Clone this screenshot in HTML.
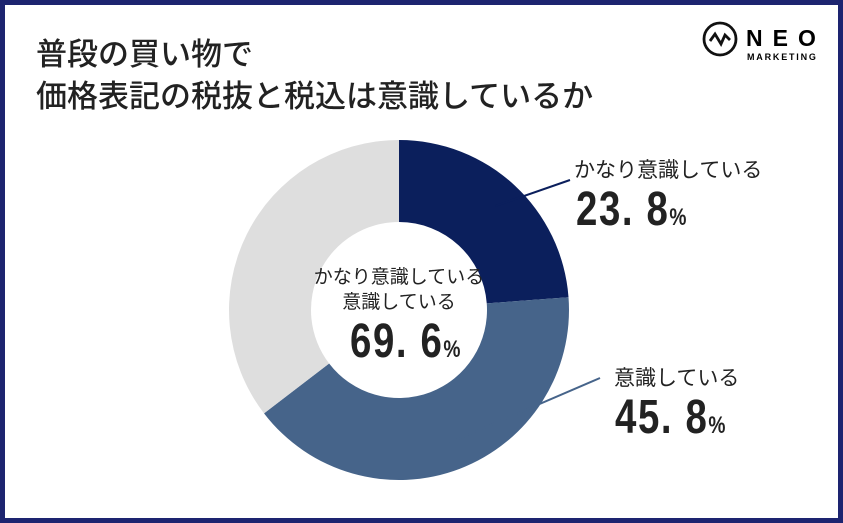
<!DOCTYPE html>
<html><head><meta charset="utf-8"><style>
body{margin:0;width:843px;height:523px;overflow:hidden;background:#fff;font-family:"Liberation Sans","Noto Sans CJK JP",sans-serif}
#frame{position:absolute;left:0;top:0;width:833px;height:513px;border:5px solid #1d2470;background:#fff}
.t{position:absolute;color:#222;white-space:nowrap}
.num{font-weight:bold;display:inline-block;transform:scaleX(0.8);transform-origin:left;letter-spacing:2px}
</style></head><body>
<div id="frame"></div>
<div class="t" style="left:36px;top:34px;font-size:31px;line-height:42px;font-weight:500">普段の買い物で<br>価格表記の税抜と税込は意識しているか</div>
<div style="position:absolute;left:701px;top:18px">
<svg width="130" height="46"><circle cx="19" cy="21" r="16" fill="none" stroke="#111" stroke-width="2.8"/><polyline points="9,23 14,16 20,26 24,17 29,22" fill="none" stroke="#111" stroke-width="2.8"/>
<text x="45" y="28" font-size="23" font-weight="bold" letter-spacing="10" font-family="Liberation Sans">NEO</text>
<text x="46" y="42" font-size="9" font-weight="bold" letter-spacing="1.8" font-family="Liberation Sans">MARKETING</text></svg></div>
<svg id="chart" width="843" height="523" style="position:absolute;left:0;top:0"></svg>
<div class="t" style="left:574px;top:154px;font-size:21px">かなり意識している</div>
<div class="t" style="left:576px;top:182px"><span class="num" style="font-size:48px">23. 8<span style="font-size:24px">%</span></span></div>
<div class="t" style="left:614px;top:362px;font-size:21px">意識している</div>
<div class="t" style="left:615px;top:390px"><span class="num" style="font-size:48px">45. 8<span style="font-size:24px">%</span></span></div>
<div class="t" style="left:309px;top:265px;width:180px;text-align:center;font-size:19px;line-height:25px">かなり意識している<br>意識している</div>
<div class="t" style="left:350px;top:314px"><span class="num" style="font-size:48px">69. 6<span style="font-size:24px">%</span></span></div>
<script>
const categories=["かなり意識している","意識している","その他"];
const values=[23.8,40.8,35.4];
const colors=["#0b1f5c","#46648a","#dedede"];
const svg=document.getElementById('chart');
const cx=399,cy=310,R=170,r=88;
const total=values.reduce((a,b)=>a+b,0);
function pt(a,rad){return [cx+rad*Math.sin(a),cy-rad*Math.cos(a)];}
let a0=0;
values.forEach((v,i)=>{
 const a1=a0+v/total*2*Math.PI;
 const large=(a1-a0)>Math.PI?1:0;
 const [x0,y0]=pt(a0,R),[x1,y1]=pt(a1,R),[x2,y2]=pt(a1,r),[x3,y3]=pt(a0,r);
 const p=document.createElementNS('http://www.w3.org/2000/svg','path');
 p.setAttribute('d',`M${x0},${y0}A${R},${R} 0 ${large} 1 ${x1},${y1}L${x2},${y2}A${r},${r} 0 ${large} 0 ${x3},${y3}Z`);
 p.setAttribute('fill',colors[i]);
 
 
 svg.appendChild(p);
 if(i<2){
  const mid=(a0+a1)/2;
  const [lx,ly]=pt(mid,R-28);
  const ex=i==0?570:600,ey=i==0?180:378;
  const l=document.createElementNS('http://www.w3.org/2000/svg','line');
  l.setAttribute('x1',lx);l.setAttribute('y1',ly);l.setAttribute('x2',ex);l.setAttribute('y2',ey);
  l.setAttribute('stroke',colors[i]);l.setAttribute('stroke-width','2');
  
  
  svg.appendChild(l);
 }
 a0=a1;
});
</script>
</body></html>
